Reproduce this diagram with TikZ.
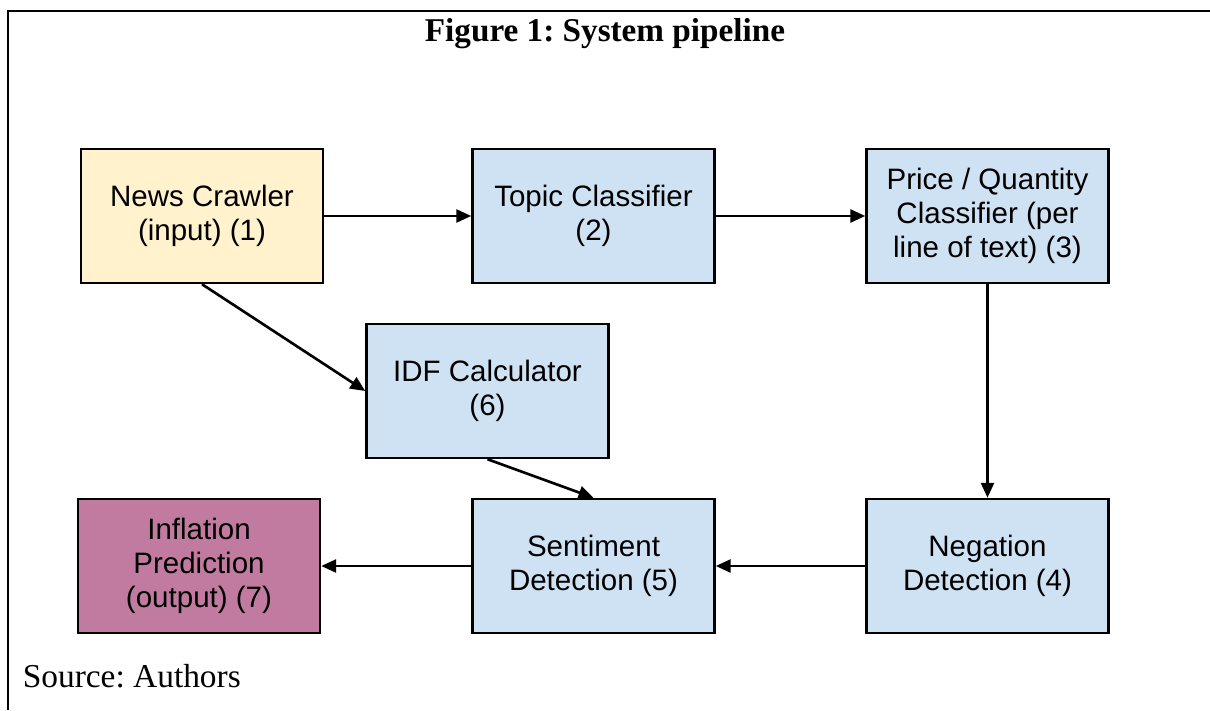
\documentclass[tikz,border=0pt]{standalone}
\usepackage{fontspec}
\setmainfont{Liberation Serif}
\newfontfamily\boxfont{Liberation Sans}
\usetikzlibrary{arrows.meta}
\definecolor{cinput}{HTML}{FFF2CC}
\definecolor{cstep}{HTML}{CFE2F3}
\definecolor{coutput}{HTML}{C27BA0}
\tikzset{
  pbox/.style={    % pipeline step (blue)
    draw=black, fill=cstep, line width=1.4pt,
    minimum width=4.84cm, minimum height=2.68cm,
    align=center, inner sep=4pt,
    font=\boxfont\fontsize{16.8}{19.2}\selectfont
  },
  ibox/.style={pbox, fill=cinput},   % input
  obox/.style={pbox, fill=coutput},  % output
  parr/.style={-{Triangle[length=0.30cm, width=0.26cm]}, line width=1.5pt},
}
\begin{document}
\frenchspacing
\begin{tikzpicture}
\useasboundingbox (0,0) rectangle (24.2,14.2);

%% ─── Frame and title ────────────────────────────────────────────────────────
\draw[line width=1.5pt] (0.16,0) -- (0.16,13.98) -- (24.2,13.98);
\node[font=\bfseries\fontsize{18.9}{22}\selectfont] (title) at (12.10,13.52)
  {Figure 1: System pipeline};

%% ─── Top row ────────────────────────────────────────────────────────────────
\node[ibox] (crawler) at ( 4.04, 9.88) {News Crawler\\(input) (1)};
\node[pbox] (topic)   at (11.87, 9.88) {Topic Classifier\\(2)};
\node[pbox] (price)   at (19.75, 9.88) {Price / Quantity\\Classifier (per\\line of text) (3)};

\draw[parr] (crawler.east) -- (topic.west);
\draw[parr] (topic.east)   -- (price.west);

%% ─── Middle ─────────────────────────────────────────────────────────────────
\node[pbox] (idf) at (9.75, 6.38) {IDF Calculator\\(6)};

\draw[parr] (crawler.south) -- (idf.west);

%% ─── Bottom row ─────────────────────────────────────────────────────────────
\node[obox] (inflation) at ( 3.98, 2.88) {Inflation\\Prediction\\(output) (7)};
\node[pbox] (sentiment) at (11.87, 2.88) {Sentiment\\Detection (5)};
\node[pbox] (negation)  at (19.75, 2.88) {Negation\\Detection (4)};

\draw[parr] (price.south)    -- (negation.north);
\draw[parr] (idf.south)      -- (sentiment.north);
\draw[parr] (negation.west)  -- (sentiment.east);
\draw[parr] (sentiment.west) -- (inflation.east);

%% ─── Source ─────────────────────────────────────────────────────────────────
\node[anchor=base west, inner sep=0pt, font=\fontsize{19}{22}\selectfont]
  (source) at (0.45,0.46) {Source: Authors};

\end{tikzpicture}
\end{document}
